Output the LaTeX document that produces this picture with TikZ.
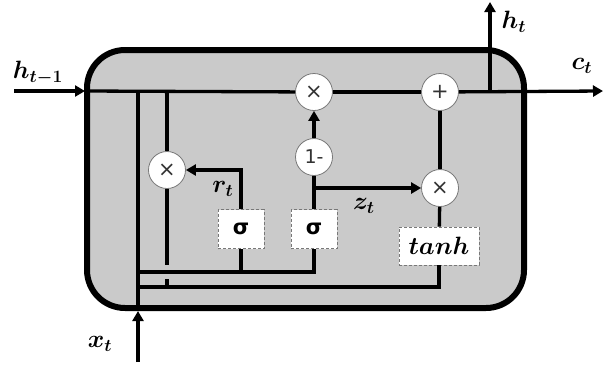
\documentclass[tikz,border=0pt]{standalone}
\usepackage{fontspec}
\usepackage{amsmath,bm}
\newfontfamily\dvsans{DejaVu Sans}
\usetikzlibrary{arrows.meta}
\definecolor{boxgray}{RGB}{202,202,202}
\definecolor{rimgray}{RGB}{120,120,120}
\newcommand{\bigmath}[1]{\scalebox{1.45}{$\bm{#1}$}}
\tikzset{
  conn/.style={line width=3.3pt, line cap=butt},
  arr/.style={conn, -{Triangle[length=10pt,width=11pt]}},
  opcirc/.style={circle, draw=rimgray, fill=white, line width=0.8pt, minimum size=37pt, inner sep=0pt, text=black!80},
  opglyph/.style={font=\dvsans\fontsize{21}{21}\selectfont},
  gatebox/.style={draw=rimgray, densely dashed, line width=0.6pt, fill=white, inner sep=0pt},
  lab/.style={font=\fontsize{18}{22}\selectfont, inner sep=0pt}
}
\begin{document}
\begin{tikzpicture}[x=1pt, y=-1pt]
\useasboundingbox (0,0) rectangle (603,365);
% outer cell
\draw[line width=6pt, fill=boxgray, rounded corners=38pt] (87,50) rectangle (524,308);
% nodes
\node[opcirc, opglyph] (mulz) at (314,92) {×};
\node[opcirc, opglyph] (plus) at (440,92) {+};
\node[opcirc] (onem) at (314,157) {\dvsans\fontsize{19}{19}\selectfont 1-};
\node[opcirc, opglyph] (mulr) at (167,170) {×};
\node[opcirc, opglyph] (mult) at (440,188) {×};
\node[gatebox, minimum width=46pt, minimum height=39pt] (sigr) at (241,229) {\dvsans\bfseries\fontsize{21}{21}\selectfont σ};
\node[gatebox, minimum width=46pt, minimum height=39pt] (sigz) at (314,229) {\dvsans\bfseries\fontsize{21}{21}\selectfont σ};
\node[gatebox, minimum width=80pt, minimum height=38pt, font=\fontsize{18}{22}\selectfont] (tanh) at (439,246) {\bigmath{tanh}};
% coordinates
\coordinate (hin) at (14,91);
\coordinate (hb) at (85,91);
\coordinate (cout) at (603,91);
\coordinate (hsplit) at (490,91);
\coordinate (hout) at (490,2);
\coordinate (xin) at (138,362);
\coordinate (xb) at (138,311);
\coordinate (xtop) at (138,91);
\coordinate (rtop) at (167,91);
\coordinate (rgap1) at (167,265);
\coordinate (rgap2) at (167,279);
\coordinate (rbot) at (167,287);
\coordinate (busA) at (138,272);
\coordinate (busAr) at (241,272);
\coordinate (busAz) at (314,272);
\coordinate (busB) at (138,287);
\coordinate (busBt) at (439,287);
\coordinate (rcorner) at (241,170);
\coordinate (zsplit) at (314,188);
% connectors
\draw[arr] (hin) -- (hb);
\draw[conn] (hb) -- (mulz);
\draw[conn] (mulz) -- (plus);
\draw[arr] (plus) -- (cout);
\draw[arr] (hsplit) -- (hout);
\draw[arr] (xin) -- (xb);
\draw[conn] (xb) -- (xtop);
\draw[conn] (rtop) -- (mulr);
\draw[conn] (mulr) -- (rgap1);
\draw[conn] (rgap2) -- (rbot);
\draw[conn] (busA) -- (busAz) -- (sigz);
\draw[conn] (busAr) -- (sigr);
\draw[arr] (sigr) -- (rcorner) -- (mulr);
\draw[conn] (sigz) -- (onem);
\draw[arr] (onem) -- (mulz);
\draw[arr] (zsplit) -- (mult);
\draw[conn] (plus) -- (mult);
\draw[conn] (mult) -- (tanh);
\draw[conn] (tanh) -- (busBt) -- (busB);
% labels
\node[lab] (lh) at (38,73) {\bigmath{h_{t-1}}};
\node[lab] (lht) at (514,22) {\bigmath{h_{t}}};
\node[lab] (lct) at (582,66) {\bigmath{c_{t}}};
\node[lab] (lrt) at (223,189) {\bigmath{r_{t}}};
\node[lab] (lzt) at (364,206) {\bigmath{z_{t}}};
\node[lab] (lxt) at (100,344) {\bigmath{x_{t}}};
\end{tikzpicture}
\end{document}
